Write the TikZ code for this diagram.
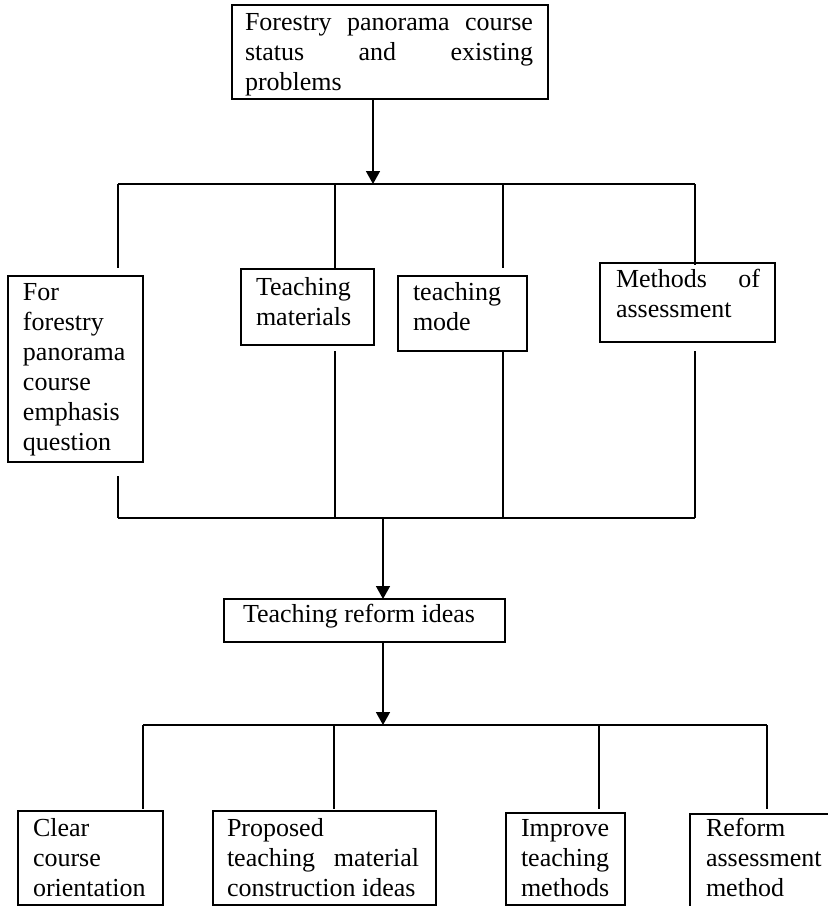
\documentclass[tikz,border=0pt]{standalone}
\usepackage{fontspec}
\setmainfont{Liberation Serif}
\usetikzlibrary{arrows.meta}
\newcommand\fstrut{\rule{0pt}{20pt}}
\begin{document}
\begin{tikzpicture}[x=1pt,y=-1pt,
  box/.style={draw, line width=1.8pt, anchor=north west, inner sep=0pt, outer sep=0pt},
  txt/.style={anchor=north west, inner sep=0pt, outer sep=0pt, align=left, font=\fontsize{26}{30}\selectfont},
  conn/.style={line width=1.3pt},
  arr/.style={line width=1.5pt, -{Triangle[length=13pt,width=14pt]}}]
\useasboundingbox (0,0) rectangle (828,906);
\clip (0,0) rectangle (828,906);

% boxes
\node[box, minimum width=316pt, minimum height=94pt] (top) at (232,5) {};
\node[box, minimum width=135pt, minimum height=186pt] (for) at (8,276) {};
\node[box, minimum width=133pt, minimum height=76pt] (mat) at (241,269) {};
\node[box, minimum width=129pt, minimum height=75pt] (mode) at (398,276) {};
\node[box, minimum width=175pt, minimum height=79pt] (meth) at (600,263) {};
\node[box, minimum width=281pt, minimum height=43pt] (ideas) at (224,599) {};
\node[box, minimum width=145pt, minimum height=94pt] (clear) at (18,811) {};
\node[box, minimum width=223pt, minimum height=94pt] (prop) at (213,811) {};
\node[box, minimum width=119pt, minimum height=92pt] (impr) at (506,813) {};
\node[box, minimum width=150pt, minimum height=100pt] (ref) at (690,814) {};

% texts
\node[txt] (t-top) at (245,10) {\fstrut\makebox[288pt][s]{Forestry panorama course}\\\makebox[288pt][s]{status and existing}\\problems};
\node[txt] (t-for) at (23,280) {\fstrut For\\forestry\\panorama\\course\\emphasis\\question};
\node[txt] (t-mat) at (256,275) {\fstrut Teaching\\materials};
\node[txt] (t-mode) at (413,280) {\fstrut teaching\\mode};
\node[txt] (t-meth) at (616,267) {\fstrut\makebox[144pt][s]{Methods of}\\assessment};
\node[txt] (t-ideas) at (243,602) {\fstrut Teaching reform ideas};
\node[txt] (t-clear) at (33,816) {\fstrut Clear\\course\\orientation};
\node[txt] (t-prop) at (227,816) {\fstrut Proposed\\\makebox[192pt][s]{teaching material}\\construction ideas};
\node[txt] (t-impr) at (521,816) {\fstrut Improve\\teaching\\methods};
\node[txt] (t-ref) at (706,816) {\fstrut Reform\\assessment\\method};

% first bus
\coordinate (b1a) at (373,184);
\coordinate (b1L) at (118,184);
\coordinate (b1R) at (695,184);
\coordinate (b1b) at (335,184);
\coordinate (b1c) at (503,184);
\coordinate (e1a) at (118,268);
\coordinate (e1c) at (503,268);
\coordinate (e1d) at (695,265);
\draw[arr] (top.south -| b1a) -- (b1a);
\draw[conn] (b1L) -- (b1R);
\draw[conn] (b1L) -- (e1a);
\draw[conn] (b1b) -- (b1b |- mat.north);
\draw[conn] (b1c) -- (e1c);
\draw[conn] (b1R) -- (e1d);

% second bus
\coordinate (b2L) at (118,518);
\coordinate (b2R) at (695,518);
\coordinate (b2a) at (383,518);
\coordinate (s2a) at (118,476);
\coordinate (s2b) at (335,351);
\coordinate (s2d) at (695,351);
\draw[conn] (b2L) -- (b2R);
\draw[conn] (s2a) -- (b2L);
\draw[conn] (s2b) -- (s2b |- b2L);
\draw[conn] (mode.south -| b1c) -- (b1c |- b2L);
\draw[conn] (s2d) -- (b2R);
\draw[arr] (b2a) -- (b2a |- ideas.north);

% third bus
\coordinate (b3a) at (383,725);
\coordinate (b3L) at (143,725);
\coordinate (b3R) at (767,725);
\coordinate (b3b) at (334,725);
\coordinate (b3c) at (599,725);
\draw[arr] (ideas.south -| b3a) -- (b3a);
\draw[conn] (b3L) -- (b3R);
\draw[conn] (b3L) -- ++(0,84);
\draw[conn] (b3b) -- ++(0,84);
\draw[conn] (b3c) -- ++(0,84);
\draw[conn] (b3R) -- ++(0,84);
\end{tikzpicture}
\end{document}
